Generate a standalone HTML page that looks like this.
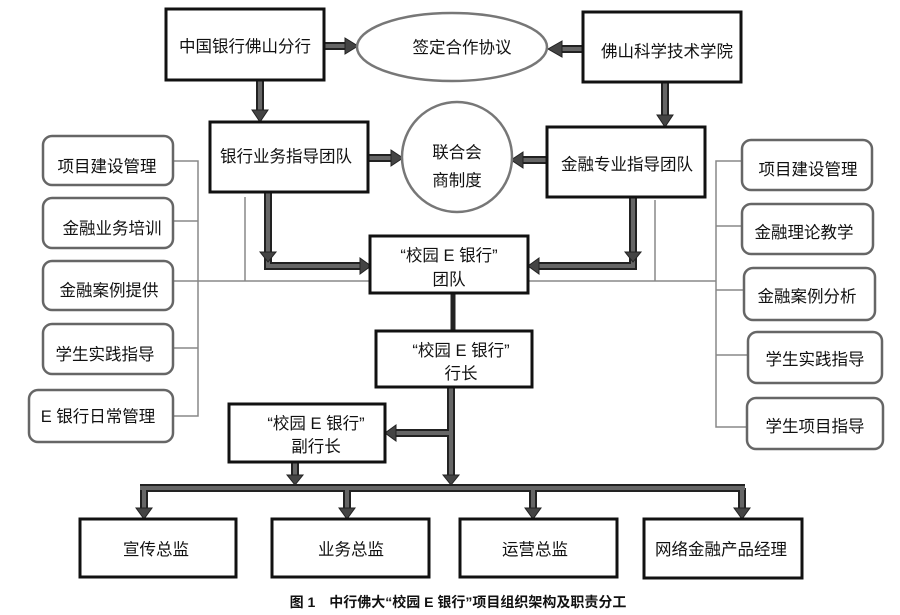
<!DOCTYPE html>
<html><head><meta charset="utf-8"><style>
html,body{margin:0;padding:0;background:#fff}
svg{display:block}
text{font-family:"Liberation Sans","Noto Sans CJK SC",sans-serif;fill:#111;font-size:16.5px}
.b{fill:#fff;stroke:#111;stroke-width:3}
.r{fill:#fff;stroke:#666;stroke-width:2.5}
.t{stroke:#888;stroke-width:1.5;fill:none}
.a{stroke:#222;stroke-width:8;fill:none}
.ai{stroke:#666;stroke-width:4;fill:none}
.h{fill:#444;stroke:#222;stroke-width:1}
</style></head><body>
<svg width="900" height="615" viewBox="0 0 900 615" xmlns="http://www.w3.org/2000/svg">
<g class="t">
<path d="M173 161H198V416H173M173 221H198M173 281H198M173 348H198"/>
<path d="M742 161H716V427H747M716 226H742M716 290H744M716 355H748"/>
<path d="M198 281H716M245 197V281M655 200V281"/>
</g>
<rect class="r" x="43" y="136" width="130" height="49" rx="9"/>
<rect class="r" x="43" y="198" width="130" height="50" rx="9"/>
<rect class="r" x="43" y="261" width="130" height="49" rx="9"/>
<rect class="r" x="43" y="324" width="130" height="50" rx="9"/>
<rect class="r" x="29" y="390" width="144" height="52" rx="9"/>
<text x="107" y="172" text-anchor="middle">项目建设管理</text>
<text x="112" y="234" text-anchor="middle">金融业务培训</text>
<text x="109" y="296" text-anchor="middle">金融案例提供</text>
<text x="105" y="360" text-anchor="middle">学生实践指导</text>
<text x="98" y="422" text-anchor="middle">E 银行日常管理</text>
<rect class="r" x="742" y="140" width="130" height="50" rx="9"/>
<rect class="r" x="742" y="204" width="131" height="50" rx="9"/>
<rect class="r" x="744" y="268" width="131" height="52" rx="9"/>
<rect class="r" x="748" y="332" width="134" height="51" rx="9"/>
<rect class="r" x="747" y="398" width="136" height="51" rx="9"/>
<text x="808" y="175" text-anchor="middle">项目建设管理</text>
<text x="804" y="238" text-anchor="middle">金融理论教学</text>
<text x="807" y="302" text-anchor="middle">金融案例分析</text>
<text x="815" y="365" text-anchor="middle">学生实践指导</text>
<text x="815" y="432" text-anchor="middle">学生项目指导</text>
<g>
<path class="a" d="M324 46H347M583 49H560M260 80V113M665 82V118M368 158H393M547 160H521M268 192V266H362M633 197V266H537M451 387V478M451 433H394M295 462V478M140 488H745M144 488V510M347 488V510M533 488V510M742 488V510"/>
<path class="ai" d="M324 46H347M583 49H560M260 80V113M665 82V118M368 158H393M547 160H521M268 192V266H362M633 197V266H537M451 387V478M451 433H394M295 462V478M140 488H745M144 488V510M347 488V510M533 488V510M742 488V510"/>
<path class="a" d="M453 293V331" style="stroke-width:5"/>
<polygon class="h" points="345,38 358,46 345,54"/>
<polygon class="h" points="562,41 548,49 562,57"/>
<polygon class="h" points="252,110 260,122 268,110"/>
<polygon class="h" points="657,115 665,127 673,115"/>
<polygon class="h" points="391,150 403,158 391,166"/>
<polygon class="h" points="523,152 511,160 523,168"/>
<polygon class="h" points="260,252 268,262 276,252"/>
<polygon class="h" points="625,252 633,262 641,252"/>
<polygon class="h" points="360,258 371,266 360,274"/>
<polygon class="h" points="539,258 528,266 539,274"/>
<polygon class="h" points="396,425 385,433 396,441"/>
<polygon class="h" points="443,475 451,485 459,475"/>
<polygon class="h" points="287,475 295,485 303,475"/>
<polygon class="h" points="136,508 144,519 152,508"/>
<polygon class="h" points="339,508 347,519 355,508"/>
<polygon class="h" points="525,508 533,519 541,508"/>
<polygon class="h" points="734,508 742,519 750,508"/>
</g>
<rect class="b" x="166" y="9" width="158" height="71"/>
<text x="245" y="52" text-anchor="middle">中国银行佛山分行</text>
<ellipse cx="452" cy="47" rx="95" ry="34" fill="#fff" stroke="#777" stroke-width="2.5"/>
<text x="462" y="53" text-anchor="middle">签定合作协议</text>
<rect class="b" x="583" y="12" width="158" height="70"/>
<text x="667" y="57" text-anchor="middle">佛山科学技术学院</text>
<rect class="b" x="210" y="122" width="158" height="70"/>
<text x="286" y="162" text-anchor="middle">银行业务指导团队</text>
<circle cx="457" cy="157" r="55" fill="#fff" stroke="#777" stroke-width="2.5"/>
<text x="457" y="158" text-anchor="middle">联合会</text>
<text x="457" y="186" text-anchor="middle">商制度</text>
<rect class="b" x="547" y="127" width="158" height="70"/>
<text x="627" y="170" text-anchor="middle">金融专业指导团队</text>
<rect class="b" x="370" y="236" width="158" height="57"/>
<text x="449" y="261" text-anchor="middle">“校园 E 银行”</text>
<text x="449" y="285" text-anchor="middle">团队</text>
<rect class="b" x="376" y="331" width="156" height="56"/>
<text x="461" y="356" text-anchor="middle">“校园 E 银行”</text>
<text x="461" y="379" text-anchor="middle">行长</text>
<rect class="b" x="229" y="404" width="156" height="58"/>
<text x="316" y="429" text-anchor="middle">“校园 E 银行”</text>
<text x="316" y="452" text-anchor="middle">副行长</text>
<rect class="b" x="80" y="519" width="156" height="58"/>
<text x="156" y="555" text-anchor="middle">宣传总监</text>
<rect class="b" x="272" y="519" width="157" height="58"/>
<text x="351" y="555" text-anchor="middle">业务总监</text>
<rect class="b" x="460" y="519" width="157" height="58"/>
<text x="535" y="555" text-anchor="middle">运营总监</text>
<rect class="b" x="644" y="519" width="158" height="59"/>
<text x="721" y="555" text-anchor="middle">网络金融产品经理</text>
<text x="458" y="607" text-anchor="middle" style="font-size:14px;font-weight:bold">图 1　中行佛大“校园 E 银行”项目组织架构及职责分工</text>
</svg>
</body></html>
